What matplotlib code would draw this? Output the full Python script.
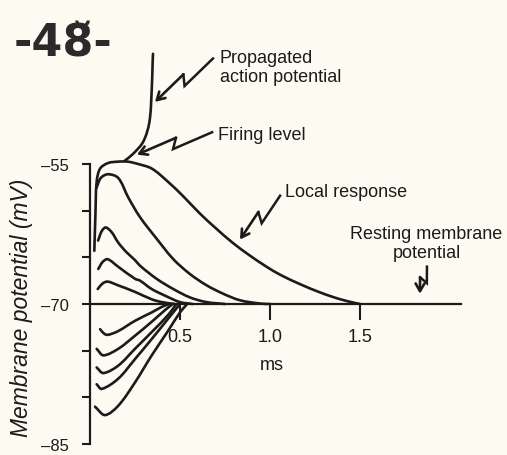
import matplotlib
matplotlib.use('Agg')
import matplotlib.pyplot as plt
import numpy as np
from matplotlib.path import Path
from matplotlib.patches import PathPatch

plt.rcParams['font.family'] = ['Liberation Sans', 'DejaVu Sans']

# ---------------- data (time in ms, potential in mV) ----------------
threshold_t = [0.024, 0.030, 0.037, 0.056, 0.10, 0.156, 0.21, 0.267, 0.344, 0.433,
               0.52, 0.61, 0.70, 0.79, 0.88, 0.98, 1.06, 1.17, 1.27, 1.35, 1.43, 1.50]
threshold_v = [-64.3, -60.5, -56.9, -55.5, -54.9, -54.75, -54.75, -55.0, -55.5, -56.9,
               -58.5, -60.3, -61.9, -63.4, -64.7, -66.0, -66.9, -67.9, -68.7, -69.25, -69.7, -70.0]

ap_t = [0.19, 0.24, 0.296, 0.33, 0.343, 0.348, 0.35]
ap_v = [-54.7, -53.9, -52.6, -50.5, -47.0, -44.1, -43.2]

local2_t = [0.035, 0.06, 0.10, 0.157, 0.213, 0.278, 0.37, 0.463, 0.556, 0.648, 0.74, 0.833, 0.944, 1.0]
local2_v = [-57.6, -56.5, -56.1, -56.5, -58.6, -60.7, -63.0, -65.2, -66.8, -68.0, -68.9, -69.6, -69.95, -70.0]

local3_t = [0.045, 0.065, 0.087, 0.12, 0.156, 0.20, 0.25, 0.278, 0.37, 0.463, 0.556, 0.648, 0.75]
local3_v = [-63.2, -62.2, -61.8, -62.3, -63.4, -64.4, -65.3, -65.9, -67.3, -68.4, -69.3, -69.8, -70.0]

local4_t = [0.046, 0.07, 0.098, 0.156, 0.25, 0.278, 0.343, 0.433, 0.50, 0.57]
local4_v = [-66.25, -65.5, -65.2, -66.0, -67.3, -67.5, -68.4, -69.25, -69.8, -70.0]

local5_t = [0.043, 0.07, 0.098, 0.156, 0.25, 0.343, 0.40, 0.47]
local5_v = [-68.4, -67.8, -67.6, -68.0, -68.7, -69.5, -69.8, -70.0]

hyper1_t = [0.056, 0.08, 0.10, 0.157, 0.25, 0.343, 0.40, 0.44]
hyper1_v = [-72.7, -73.2, -73.3, -72.9, -71.8, -70.9, -70.3, -70.0]

hyper2_t = [0.037, 0.074, 0.157, 0.25, 0.343, 0.42, 0.46]
hyper2_v = [-74.8, -75.5, -74.8, -73.4, -71.9, -70.6, -70.0]

hyper3_t = [0.037, 0.074, 0.157, 0.25, 0.343, 0.433, 0.48]
hyper3_v = [-76.8, -77.4, -76.6, -74.8, -73.0, -71.2, -70.0]

hyper4_t = [0.037, 0.065, 0.157, 0.25, 0.343, 0.433, 0.50]
hyper4_v = [-78.6, -79.1, -78.0, -75.9, -73.75, -71.6, -70.0]

hyper5_t = [0.028, 0.083, 0.157, 0.25, 0.343, 0.433, 0.50, 0.54]
hyper5_v = [-81.0, -81.9, -80.9, -78.4, -75.5, -72.9, -70.9, -70.0]

y_ticks = [-85, -80, -75, -70, -65, -60, -55]
y_ticklabels = ['\u201385', '', '', '\u201370', '', '', '\u201355']
x_ticks = [0.5, 1.0, 1.5]
x_ticklabels = ['0.5', '1.0', '1.5']

# ---------------- figure ----------------
BG = '#fcfaf1'
INK = '#1b1b1b'

fig = plt.figure(figsize=(5.07, 4.56), dpi=100, facecolor=BG)
ax = fig.add_axes([90 / 507, 1 / 456, 380 / 507, 415 / 456])
ax.set_facecolor('none')
ax.set_xlim(0, 2.111)
ax.set_ylim(-86.07, -41.61)

for s in ('top', 'right'):
    ax.spines[s].set_visible(False)
ax.spines['left'].set_bounds(-85, -55)
ax.spines['bottom'].set_position(('data', -70))
ax.spines['bottom'].set_bounds(0, 2.06)
for s in ('left', 'bottom'):
    ax.spines[s].set_linewidth(1.6)
    ax.spines[s].set_color(INK)

ax.set_yticks(y_ticks)
ax.set_yticklabels(y_ticklabels)
ax.set_xticks(x_ticks)
ax.set_xticklabels(x_ticklabels)
ax.tick_params(axis='y', direction='out', length=6, width=1.5, pad=9,
               labelsize=12, colors=INK)
ax.tick_params(axis='x', direction='out', length=11.5, width=1.5, pad=6,
               labelsize=13, colors=INK)


def smooth_curve(t, v, lw=1.9):
    """Draw a smooth Bezier path through the given points (chord-length tangents)."""
    T = ax.transData
    P = np.array(T.transform(np.column_stack([t, v])))
    n = len(P)
    ext = np.vstack([2 * P[0] - P[1], P, 2 * P[-1] - P[-2]])
    verts = [P[0]]
    codes = [Path.MOVETO]
    for i in range(1, n):
        p0, p1, p2, p3 = ext[i - 1], ext[i], ext[i + 1], ext[i + 2]
        d01 = np.hypot(*(p1 - p0)) + 1e-9
        d12 = np.hypot(*(p2 - p1)) + 1e-9
        d23 = np.hypot(*(p3 - p2)) + 1e-9
        m1 = (p2 - p0) / (d01 + d12)
        m2 = (p3 - p1) / (d12 + d23)
        c1 = p1 + m1 * d12 / 3.0
        c2 = p2 - m2 * d12 / 3.0
        verts += [c1, c2, p2]
        codes += [Path.CURVE4] * 3
    verts = T.inverted().transform(np.array(verts))
    ax.add_patch(PathPatch(Path(verts, codes), facecolor='none', edgecolor=INK,
                           lw=lw, joinstyle='round', capstyle='round',
                           transform=ax.transData, clip_on=False))


curves = [
    (threshold_t, threshold_v), (ap_t, ap_v),
    (local2_t, local2_v), (local3_t, local3_v), (local4_t, local4_v), (local5_t, local5_v),
    (hyper1_t, hyper1_v), (hyper2_t, hyper2_v), (hyper3_t, hyper3_v),
    (hyper4_t, hyper4_v), (hyper5_t, hyper5_v),
]
for t, v in curves:
    smooth_curve(t, v)

# ---------------- texts ----------------
tkw = dict(color=INK, fontsize=13)
ax.text(0.722, -44.65, 'Propagated\naction potential', ha='left', va='center',
        linespacing=1.15, **tkw)
ax.text(0.711, -51.8, 'Firing level', ha='left', va='center', **tkw)
ax.text(1.083, -57.9, 'Local response', ha='left', va='center', **tkw)
ax.text(1.869, -63.5, 'Resting membrane\npotential', ha='center', va='center',
        linespacing=1.15, **tkw)
ax.text(1.011, -76.5, 'ms', ha='center', va='center', **tkw)

fig.text(22 / 507, 1 - 308 / 456, 'Membrane potential (mV)', rotation=90,
         ha='center', va='center', fontsize=16.5, style='italic', color=INK)

fig.text(14 / 507, 1 - 44 / 456, '-48\u0306-', ha='left', va='center',
         fontsize=32, fontweight='bold', color='#2a2a2a', family='DejaVu Sans')


# ---------------- lightning arrows ----------------
def lightning(start, end, w=5.0, s=3.0):
    T = ax.transData
    S = np.array(T.transform(start))
    E = np.array(T.transform(end))
    d = E - S
    L = np.hypot(*d)
    d = d / L
    nrm = np.array([-d[1], d[0]])
    M = S + 0.5 * L * d
    A = M + w * nrm + s * d
    B = M - w * nrm - s * d
    inv = T.inverted()
    a = inv.transform(A)
    b = inv.transform(B)
    ax.plot([start[0], a[0], b[0]], [start[1], a[1], b[1]], color=INK, lw=1.8,
            solid_joinstyle='miter', clip_on=False)
    ax.annotate('', xy=end, xytext=b,
                arrowprops=dict(arrowstyle='->,head_length=0.55,head_width=0.32',
                                lw=1.9, color=INK, shrinkA=0, shrinkB=0))


lightning((0.683, -43.7), (0.361, -48.35))
lightning((0.678, -51.6), (0.261, -54.0))
lightning((1.056, -58.4), (0.833, -63.1))
lightning((1.872, -66.0), (1.833, -68.9), w=4.0, s=2.0)

fig.savefig('out.png', dpi=100, facecolor=BG)
